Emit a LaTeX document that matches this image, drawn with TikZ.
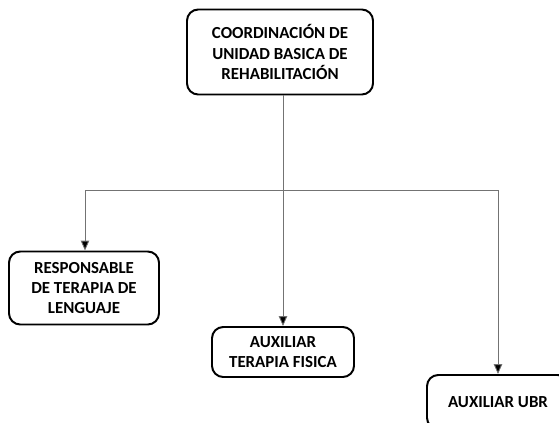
\documentclass[tikz,border=0pt]{standalone}
\usepackage{fontspec}
\setmainfont{Carlito}
\usepackage{tikz}
\usetikzlibrary{arrows.meta}

\begin{document}
\begin{tikzpicture}[x=0.025cm,y=-0.025cm,
    cargo/.style={draw=black,line width=1.4pt,rounded corners=0.28cm,fill=white,
        align=center,inner sep=0pt,font=\fontsize{12}{14.3}\selectfont\bfseries},
    enlace/.style={draw=black!55,line width=0.6pt},
    flecha/.style={enlace,-{Triangle[length=7pt,width=6pt,fill=black]}}]
    \useasboundingbox (0,0) rectangle (559,422);
    \clip (0,0) rectangle (559,422);

    % Coordination
    \node[cargo,minimum width=186*0.025cm,minimum height=85*0.025cm] (coord) at (280,52)
        {COORDINACIÓN DE\\UNIDAD BASICA DE\\REHABILITACIÓN};

    % Staff
    \node[cargo,minimum width=150*0.025cm,minimum height=73*0.025cm] (resp) at (84,288)
        {RESPONSABLE\\DE TERAPIA DE\\LENGUAJE};
    \node[cargo,minimum width=142*0.025cm,minimum height=50*0.025cm] (fisica) at (283,352)
        {AUXILIAR\\TERAPIA FISICA};
    \node[cargo,minimum width=142*0.025cm,minimum height=54*0.025cm] (ubr) at (498,402)
        {AUXILIAR UBR};

    % Connectors
    \coordinate (izq) at (85,190);
    \coordinate (der) at (498,190);
    \draw[flecha] (coord.south -| fisica.north) -- (fisica.north);
    \draw[enlace] (izq) -- (der);
    \draw[flecha] (izq) -- (resp.north -| izq);
    \draw[flecha] (der) -- (ubr.north);
\end{tikzpicture}
\end{document}
